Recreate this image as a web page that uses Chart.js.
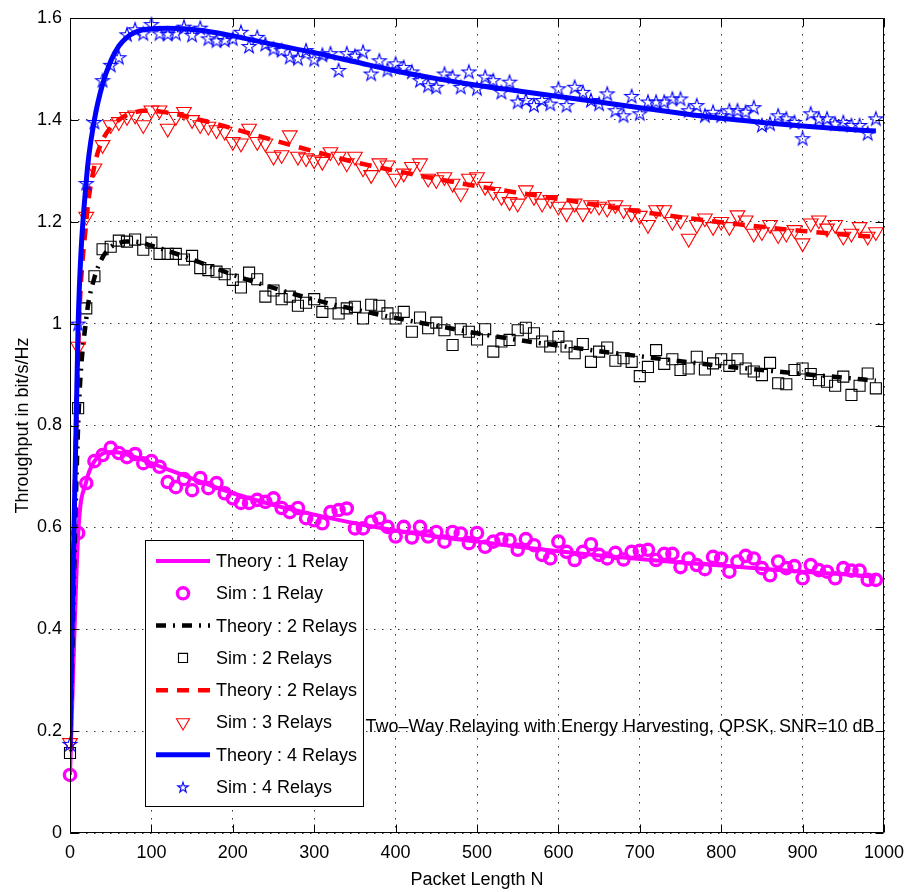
<!DOCTYPE html>
<html>
<head>
<meta charset="utf-8">
<title>Two-Way Relaying throughput</title>
<script src="https://cdn.jsdelivr.net/npm/chart.js@4.4.1/dist/chart.umd.min.js"></script>
<style>
  html, body { margin: 0; padding: 0; background: #fff; }
  #wrap { width: 911px; height: 892px; }
</style>
</head>
<body>
<div id="wrap"><canvas id="throughput" width="911" height="892"></canvas></div>
<script>
// packet lengths where the simulation was run
const simN = [0,10,20,30,40,50,60,70,80,90,100,110,120,130,140,150,160,170,180,190,
  200,210,220,230,240,250,260,270,280,290,300,310,320,330,340,350,360,370,380,390,
  400,410,420,430,440,450,460,470,480,490,500,510,520,530,540,550,560,570,580,590,
  600,610,620,630,640,650,660,670,680,690,700,710,720,730,740,750,760,770,780,790,
  800,810,820,830,840,850,860,870,880,890,900,910,920,930,940,950,960,970,980,990];

// packet lengths where the analytic curves were evaluated
const theoryN = [0,10,20,30,40,50,60,70,80,90,100,120,140,160,180,200,250,300,350,400,
  450,500,550,600,650,700,750,800,850,900,950,990];

const theory1 = [0.114,0.585,0.690,0.730,0.745,0.748,0.747,0.743,0.738,0.732,0.726,0.714,0.702,0.690,0.678,0.667,
  0.644,0.625,0.608,0.594,0.582,0.572,0.562,0.553,0.545,0.538,0.531,0.525,0.519,0.513,0.508,0.503];
const theory2 = [0.160,0.800,1.010,1.090,1.130,1.150,1.158,1.161,1.161,1.158,1.153,1.143,1.132,1.120,1.108,1.096,
  1.070,1.047,1.028,1.011,0.996,0.981,0.968,0.957,0.946,0.936,0.926,0.917,0.909,0.901,0.894,0.888];
const theory3 = [0.175,0.950,1.200,1.310,1.360,1.385,1.400,1.410,1.415,1.418,1.418,1.414,1.408,1.400,1.392,1.383,
  1.360,1.338,1.317,1.300,1.284,1.270,1.257,1.245,1.232,1.220,1.209,1.199,1.190,1.182,1.175,1.170];
const theory4 = [0.175,1.000,1.280,1.400,1.470,1.515,1.545,1.562,1.572,1.577,1.579,1.580,1.579,1.576,1.571,1.565,
  1.548,1.532,1.514,1.496,1.481,1.468,1.457,1.446,1.435,1.424,1.413,1.403,1.395,1.388,1.382,1.378];

const sim1 = [0.114,0.589,0.687,0.730,0.742,0.756,0.746,0.738,0.744,0.726,0.730,0.719,0.689,0.679,0.695,0.673,0.697,0.677,0.687,0.667,
  0.657,0.648,0.648,0.654,0.650,0.657,0.638,0.630,0.638,0.618,0.614,0.608,0.630,0.634,0.637,0.598,0.598,0.611,0.618,0.601,
  0.582,0.601,0.580,0.601,0.582,0.591,0.572,0.591,0.588,0.569,0.589,0.562,0.572,0.577,0.575,0.556,0.577,0.565,0.546,0.539,
  0.572,0.552,0.536,0.552,0.567,0.546,0.539,0.550,0.537,0.552,0.554,0.556,0.536,0.548,0.548,0.522,0.539,0.526,0.518,0.542,
  0.539,0.513,0.533,0.544,0.539,0.520,0.506,0.533,0.520,0.524,0.500,0.526,0.516,0.513,0.500,0.520,0.515,0.515,0.497,0.497];
const sim2 = [0.157,0.834,1.030,1.093,1.146,1.151,1.163,1.161,1.165,1.145,1.159,1.137,1.137,1.137,1.126,1.133,1.109,1.105,1.102,1.097,
  1.086,1.071,1.100,1.087,1.053,1.065,1.048,1.053,1.035,1.041,1.048,1.023,1.040,1.020,1.030,1.033,1.010,1.037,1.035,1.020,
  1.010,1.023,0.984,1.012,0.991,1.002,0.987,0.958,0.989,0.984,0.969,0.989,0.945,0.965,0.968,0.987,0.992,0.981,0.965,0.955,
  0.974,0.955,0.942,0.960,0.925,0.945,0.953,0.927,0.932,0.925,0.897,0.915,0.948,0.921,0.930,0.909,0.912,0.935,0.910,0.922,
  0.930,0.917,0.930,0.912,0.906,0.899,0.923,0.883,0.881,0.909,0.912,0.901,0.889,0.886,0.878,0.896,0.860,0.878,0.902,0.873];
const sim3 = [0.177,0.955,1.210,1.305,1.351,1.390,1.396,1.406,1.409,1.390,1.419,1.419,1.383,1.406,1.416,1.400,1.390,1.387,1.380,1.377,
  1.357,1.354,1.383,1.357,1.354,1.328,1.331,1.370,1.328,1.325,1.321,1.318,1.337,1.328,1.315,1.328,1.305,1.292,1.315,1.311,
  1.285,1.295,1.308,1.315,1.285,1.282,1.288,1.275,1.256,1.285,1.288,1.269,1.259,1.249,1.239,1.236,1.262,1.249,1.236,1.243,
  1.230,1.217,1.236,1.217,1.233,1.230,1.226,1.233,1.223,1.217,1.212,1.194,1.223,1.223,1.200,1.203,1.167,1.194,1.207,1.190,
  1.200,1.190,1.213,1.203,1.177,1.180,1.194,1.174,1.177,1.184,1.158,1.197,1.203,1.187,1.194,1.171,1.177,1.190,1.171,1.180];
const sim4 = [0.175,1.000,1.276,1.396,1.478,1.508,1.523,1.568,1.578,1.570,1.588,1.570,1.569,1.570,1.583,1.567,1.581,1.560,1.556,1.557,
  1.560,1.573,1.545,1.563,1.549,1.540,1.537,1.524,1.521,1.537,1.519,1.528,1.531,1.498,1.531,1.526,1.534,1.491,1.517,1.499,
  1.511,1.504,1.495,1.478,1.468,1.465,1.491,1.485,1.465,1.495,1.462,1.485,1.478,1.455,1.475,1.436,1.439,1.429,1.439,1.432,
  1.462,1.429,1.465,1.455,1.439,1.432,1.452,1.419,1.409,1.447,1.413,1.436,1.436,1.436,1.442,1.442,1.419,1.429,1.409,1.416,
  1.409,1.419,1.419,1.416,1.425,1.390,1.393,1.409,1.403,1.396,1.364,1.413,1.403,1.403,1.393,1.396,1.390,1.390,1.374,1.403];

const xTicks = [0,100,200,300,400,500,600,700,800,900,1000];
const yTicks = [0,0.2,0.4,0.6,0.8,1,1.2,1.4,1.6];

const FONT = '"Liberation Sans", Arial, Helvetica, sans-serif';
const MAGENTA = '#ff00ff', BLACK = '#000000', RED = '#ff0000', BLUE = '#0000ff';

function pts(xs, ys) {
  return ys.map((y, i) => ({ x: xs[i], y: y }));
}

// hollow five-pointed star marker
function makeStar(r, color) {
  const size = Math.ceil(r * 2 + 3);
  const c = document.createElement('canvas');
  c.width = size; c.height = size;
  const g = c.getContext('2d');
  const cx = size / 2, cy = size / 2 + r * 0.1;
  g.beginPath();
  for (let k = 0; k < 10; k++) {
    const rr = k % 2 === 0 ? r : r * 0.382;
    const a = -Math.PI / 2 + k * Math.PI / 5;
    const px = cx + rr * Math.cos(a), py = cy + rr * Math.sin(a);
    if (k === 0) g.moveTo(px, py); else g.lineTo(px, py);
  }
  g.closePath();
  g.strokeStyle = color;
  g.lineWidth = 1.1;
  g.stroke();
  return c;
}
const starPlot = makeStar(7.3, BLUE);
const starLegend = makeStar(5.5, BLUE);

function theoryLine(label, ys, color, width, dash) {
  return {
    label: label, data: pts(theoryN, ys),
    borderColor: color, borderWidth: width, borderDash: dash,
    pointRadius: 0, fill: false,
    cubicInterpolationMode: 'monotone'
  };
}
function simMarks(label, ys, color, style, radius, width, rotation, legendStyle, legendRadius) {
  return {
    label: label, data: pts(simN, ys), showLine: false,
    borderColor: color, backgroundColor: 'rgba(0,0,0,0)',
    pointStyle: style, pointRadius: radius, pointBorderWidth: width,
    pointBorderColor: color, pointBackgroundColor: 'rgba(0,0,0,0)',
    pointRotation: rotation, clip: false,
    legendStyle: legendStyle || style, legendRadius: legendRadius || radius
  };
}

const datasets = [
  theoryLine('Theory : 1 Relay', theory1, MAGENTA, 4, []),
  simMarks('Sim : 1 Relay', sim1, MAGENTA, 'circle', 5.6, 3.4, 0),
  theoryLine('Theory : 2 Relays', theory2, BLACK, 4.5, [10, 7, 2, 7]),
  simMarks('Sim : 2 Relays', sim2, BLACK, 'rect', 7.8, 1.1, 0, 'rect', 6.4),
  theoryLine('Theory : 2 Relays', theory3, RED, 4.5, [12, 9]),
  simMarks('Sim : 3 Relays', sim3, RED, 'triangle', 8.5, 1.1, 180, 'triangle', 7.5),
  theoryLine('Theory : 4 Relays', theory4, BLUE, 5, []),
  simMarks('Sim : 4 Relays', sim4, BLUE, starPlot, 7, 1, 0, starLegend, 5.5)
];
// later series are painted over earlier ones
datasets.forEach((d, i) => { d.order = datasets.length - 1 - i; });

// closed axes box with inward tick marks on all four sides
const axesBox = {
  id: 'axesBox',
  afterDatasetsDraw(chart) {
    const { ctx, chartArea: a, scales } = chart;
    const L = Math.round(a.left) + 0.5, R = Math.round(a.right) - 0.5;
    const T = Math.round(a.top) + 0.5, B = Math.round(a.bottom) - 0.5;
    ctx.save();
    ctx.setLineDash([]);
    ctx.strokeStyle = '#000';
    ctx.lineWidth = 1;
    ctx.beginPath();
    ctx.rect(L, T, R - L, B - T);
    const len = 8;
    xTicks.forEach(v => {
      const px = Math.round(scales.x.getPixelForValue(v)) + 0.5;
      ctx.moveTo(px, B); ctx.lineTo(px, B - len);
      ctx.moveTo(px, T); ctx.lineTo(px, T + len);
    });
    yTicks.forEach(v => {
      const py = Math.round(scales.y.getPixelForValue(v)) + 0.5;
      ctx.moveTo(L, py); ctx.lineTo(L + len, py);
      ctx.moveTo(R, py); ctx.lineTo(R - len, py);
    });
    ctx.stroke();
    ctx.restore();
  }
};

// caption inside the axes
const caption = {
  id: 'caption',
  afterDatasetsDraw(chart) {
    const { ctx, scales } = chart;
    ctx.save();
    ctx.font = '18px ' + FONT;
    ctx.fillStyle = '#000';
    ctx.textBaseline = 'middle';
    ctx.textAlign = 'left';
    ctx.fillText('Two\u2013Way Relaying with Energy Harvesting, QPSK, SNR=10 dB',
      scales.x.getPixelForValue(363), scales.y.getPixelForValue(0.208));
    ctx.restore();
  }
};

// boxed legend sitting inside the lower-left part of the axes
const boxLegend = {
  id: 'boxLegend',
  afterDraw(chart) {
    const { ctx } = chart;
    const bx = 145, by = 540, bw = 218, bh = 266, rowH = 32.3;
    ctx.save();
    ctx.fillStyle = '#fff';
    ctx.fillRect(bx, by, bw, bh);
    ctx.strokeStyle = '#000';
    ctx.lineWidth = 1;
    ctx.setLineDash([]);
    ctx.strokeRect(bx + 0.5, by + 0.5, bw, bh);
    ctx.font = '18px ' + FONT;
    ctx.textBaseline = 'middle';
    ctx.textAlign = 'left';
    chart.data.datasets.forEach((d, i) => {
      const cy = by + 21 + i * rowH;
      if (d.showLine === false) {
        ctx.setLineDash([]);
        ctx.strokeStyle = d.pointBorderColor;
        ctx.fillStyle = 'rgba(0,0,0,0)';
        ctx.lineWidth = d.pointBorderWidth;
        Chart.helpers.drawPoint(ctx, {
          pointStyle: d.legendStyle, radius: d.legendRadius,
          rotation: d.pointRotation, borderWidth: d.pointBorderWidth
        }, bx + 38, cy);
      } else {
        ctx.beginPath();
        ctx.strokeStyle = d.borderColor;
        ctx.lineWidth = d.borderWidth;
        ctx.setLineDash(d.borderDash || []);
        ctx.moveTo(bx + 11, cy);
        ctx.lineTo(bx + 65, cy);
        ctx.stroke();
      }
      ctx.fillStyle = '#000';
      ctx.fillText(d.label, bx + 71, cy + 1);
    });
    ctx.restore();
  }
};

const tickFont = { family: FONT, size: 18 };

new Chart(document.getElementById('throughput'), {
  type: 'line',
  data: { datasets: datasets },
  plugins: [axesBox, caption, boxLegend],
  options: {
    responsive: false,
    animation: false,
    events: [],
    layout: { padding: { left: 0, right: 27, top: 18, bottom: 0 } },
    plugins: { legend: { display: false }, tooltip: { enabled: false } },
    scales: {
      x: {
        type: 'linear', min: 0, max: 1000,
        afterBuildTicks: s => { s.ticks = xTicks.map(v => ({ value: v })); },
        ticks: { color: '#000', font: tickFont, padding: 9, maxRotation: 0, autoSkip: false,
                 callback: v => String(v) },
        grid: { color: '#333', lineWidth: 1, drawTicks: false },
        border: { display: false, dash: [1.5, 6.5] },
        title: { display: true, text: 'Packet Length N', color: '#000', font: tickFont,
                 padding: { top: 0, bottom: 1 } },
        afterFit: s => { s.height = 59; s.paddingLeft = 0; s.paddingRight = 0; }
      },
      y: {
        type: 'linear', min: 0, max: 1.6,
        afterBuildTicks: s => { s.ticks = yTicks.map(v => ({ value: v })); },
        ticks: { color: '#000', font: tickFont, padding: 8,
                 callback: v => String(Math.round(v * 10) / 10) },
        grid: { color: '#333', lineWidth: 1, drawTicks: false },
        border: { display: false, dash: [1.5, 6.5] },
        title: { display: true, text: 'Throughput in bit/s/Hz', color: '#000', font: tickFont,
                 padding: { top: 12, bottom: 0 } },
        afterFit: s => { s.width = 70; s.paddingTop = 0; s.paddingBottom = 0; }
      }
    }
  }
});
</script>
</body>
</html>
